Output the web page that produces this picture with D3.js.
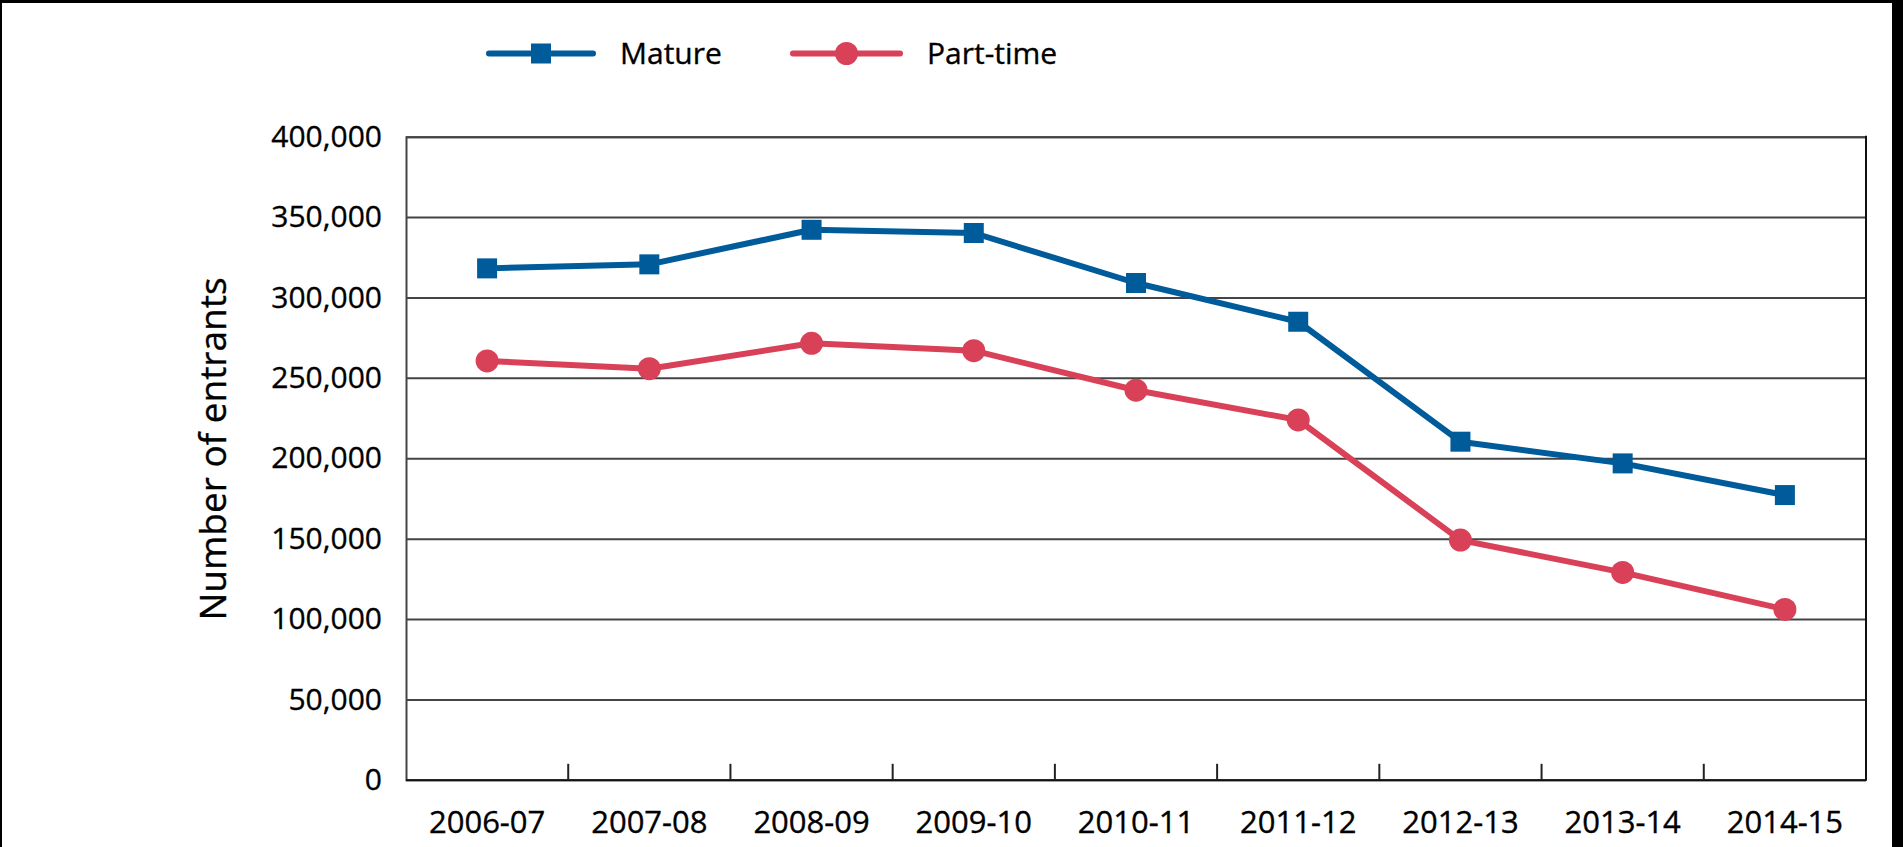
<!DOCTYPE html>
<html>
<head>
<meta charset="utf-8">
<script src="https://cdn.jsdelivr.net/npm/d3@7"></script>
<style>
  html, body { margin: 0; padding: 0; background: #000; }
  #chart { display: block; }
  text { stroke: #000; stroke-width: 0.35px; }
</style>
</head>
<body>
<div id="chart"></div>
<script>
// data
var years = ["2006-07", "2007-08", "2008-09", "2009-10", "2010-11", "2011-12", "2012-13", "2013-14", "2014-15"]
var mature = [318100, 320600, 342100, 340100, 309000, 284900, 210300, 196800, 177100]
var partTime = [260500, 255700, 271500, 266900, 242300, 223800, 149100, 129000, 106000]
var yTicks = [0, 50000, 100000, 150000, 200000, 250000, 300000, 350000, 400000]

var W = 1903, H = 847
var blue = "#005b9b", red = "#d84157"
var font = "'Open Sans', 'Noto Sans', sans-serif"

var svg = d3.select("#chart")
    .append("svg")
    .attr("width", W)
    .attr("height", H)
    .style("font-family", font)

// page background with the black frame strips
svg.append("rect").attr("width", W).attr("height", H).attr("fill", "#000")
svg.append("rect")
    .attr("x", 2).attr("y", 3)
    .attr("width", W - 2 - 11).attr("height", H - 3)
    .attr("fill", "#fff")

var plot = { left: 406, right: 1866, top: 136.7, bottom: 779.8 }

var x = d3.scaleBand()
    .domain(years)
    .range([plot.left, plot.right])
    .padding(0)

var y = d3.scaleLinear()
    .domain([0, 400000])
    .range([plot.bottom, plot.top])

// y axis with grid lines
var gy = svg.append("g")
    .attr("transform", "translate(" + plot.left + ",0)")
    .call(d3.axisLeft(y)
        .tickValues(yTicks)
        .tickFormat(d3.format(","))
        .tickSize(-(plot.right - plot.left))
        .tickPadding(24))
gy.select(".domain").attr("stroke", "#444").attr("stroke-width", 2)
gy.selectAll(".tick line")
    .attr("stroke", function (d) { return d === 0 ? "#111" : "#444" })
    .attr("stroke-width", 2)
gy.selectAll(".tick text")
    .attr("fill", "#000")
    .style("font-size", "30px")
    .style("font-family", font)

// right border of plot
svg.append("line")
    .attr("x1", plot.right).attr("x2", plot.right)
    .attr("y1", plot.top - 1).attr("y2", plot.bottom + 1)
    .attr("stroke", "#111").attr("stroke-width", 2)

// x axis labels
var gx = svg.append("g")
    .attr("transform", "translate(0," + plot.bottom + ")")
    .call(d3.axisBottom(x).tickSize(0).tickPadding(31))
gx.select(".domain").remove()
gx.selectAll(".tick text")
    .attr("fill", "#000")
    .style("font-size", "31px")
    .style("font-family", font)

// small upward ticks between categories
svg.append("g")
    .selectAll("line")
    .data(years.slice(1))
    .enter()
    .append("line")
    .attr("x1", function (d) { return x(d) })
    .attr("x2", function (d) { return x(d) })
    .attr("y1", plot.bottom)
    .attr("y2", plot.bottom - 16)
    .attr("stroke", "#222")
    .attr("stroke-width", 2)

// y axis title
svg.append("text")
    .attr("transform", "translate(226,449) rotate(-90)")
    .attr("text-anchor", "middle")
    .style("font-size", "37px")
    .attr("fill", "#000")
    .text("Number of entrants")

// series lines
var line = d3.line()
    .x(function (d, i) { return x(years[i]) + x.bandwidth() / 2 })
    .y(function (d) { return y(d) })

svg.append("path")
    .datum(partTime)
    .attr("d", line)
    .attr("fill", "none")
    .attr("stroke", red)
    .attr("stroke-width", 6)
    .attr("stroke-linejoin", "round")

svg.append("path")
    .datum(mature)
    .attr("d", line)
    .attr("fill", "none")
    .attr("stroke", blue)
    .attr("stroke-width", 6)
    .attr("stroke-linejoin", "round")

svg.selectAll(".pt")
    .data(partTime)
    .enter()
    .append("circle")
    .attr("class", "pt")
    .attr("cx", function (d, i) { return x(years[i]) + x.bandwidth() / 2 })
    .attr("cy", function (d) { return y(d) })
    .attr("r", 11.5)
    .attr("fill", red)

svg.selectAll(".mt")
    .data(mature)
    .enter()
    .append("rect")
    .attr("class", "mt")
    .attr("x", function (d, i) { return x(years[i]) + x.bandwidth() / 2 - 10 })
    .attr("y", function (d) { return y(d) - 10 })
    .attr("width", 20)
    .attr("height", 20)
    .attr("fill", blue)

// legend
var legend = [
    { name: "Mature", color: blue, x0: 489, x1: 593, tx: 620 },
    { name: "Part-time", color: red, x0: 793, x1: 900, tx: 927 }
]
var ly = 53.5
var lg = svg.append("g")
legend.forEach(function (l, i) {
    lg.append("line")
        .attr("x1", l.x0).attr("x2", l.x1)
        .attr("y1", ly).attr("y2", ly)
        .attr("stroke", l.color)
        .attr("stroke-width", 6)
        .attr("stroke-linecap", "round")
    var cx = (l.x0 + l.x1) / 2
    if (i === 0) {
        lg.append("rect")
            .attr("x", cx - 10).attr("y", ly - 10)
            .attr("width", 20).attr("height", 20)
            .attr("fill", l.color)
    } else {
        lg.append("circle")
            .attr("cx", cx).attr("cy", ly)
            .attr("r", 11.5)
            .attr("fill", l.color)
    }
    lg.append("text")
        .attr("x", l.tx)
        .attr("y", ly)
        .attr("dy", "0.35em")
        .style("font-size", "30px")
        .attr("fill", "#000")
        .text(l.name)
})
</script>
</body>
</html>
